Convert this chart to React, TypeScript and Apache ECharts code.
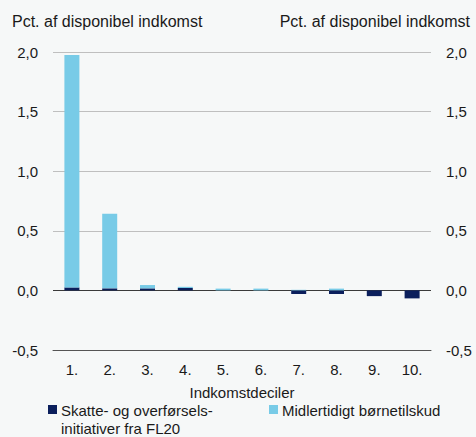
import React, { useEffect, useRef } from "react";
import * as echarts from "echarts";

const categories = ["1.", "2.", "3.", "4.", "5.", "6.", "7.", "8.", "9.", "10."];
const skatteValues = [0.025, 0.017, 0.017, 0.02, 0, 0, -0.03, -0.03, -0.048, -0.067];
const boerneValues = [1.95, 0.625, 0.028, 0.01, 0.015, 0.015, 0.005, 0.015, 0, 0];
const yTicks = [-0.5, 0, 0.5, 1.0, 1.5, 2.0];

const seriesNames = ["Skatte- og overførsels-initiativer fra FL20", "Midlertidigt børnetilskud"];
const legendLabels = ["Skatte- og overførsels-\ninitiativer fra FL20", "Midlertidigt børnetilskud"];
const unitLabel = "Pct. af disponibel indkomst";
const xAxisTitle = "Indkomstdeciler";

const DARK = "#0b1f5c";
const LIGHT = "#78cbe7";
const TEXT = "#1a1a1a";
const FONT = "Arial, 'Liberation Sans', sans-serif";
const FS = 15;

export default function App() {
  const ref = useRef<HTMLDivElement>(null);
  useEffect(() => {
    if (!ref.current) return;
    const chart = echarts.init(ref.current, null, { renderer: "svg" });
    const fmt = (v: number) => v.toFixed(1).replace(".", ",");
    const yAxisBase = (position: "left" | "right") => ({
      type: "value",
      position,
      min: yTicks[0],
      max: yTicks[yTicks.length - 1],
      interval: 0.5,
      axisLine: { show: false },
      axisTick: { show: false },
      axisLabel: {
        formatter: fmt,
        color: TEXT,
        fontSize: FS,
        fontFamily: FONT,
        margin: 15,
      },
      splitLine: {
        show: position === "left",
        lineStyle: { color: ["#7f7f7f", "#3a3a3a", "#bfbfbf", "#bfbfbf", "#bfbfbf", "#bfbfbf"], width: 1 },
      },
    });
    const titleStyle = { fontSize: 16, fontWeight: "normal", color: TEXT, fontFamily: FONT };
    const legendColors = [DARK, LIGHT];
    const legendX = [48, 269];
    const legendGraphics: any[] = [];
    legendLabels.forEach((label, i) => {
      legendGraphics.push({
        type: "rect",
        shape: { x: legendX[i], y: 405, width: 9, height: 9 },
        style: { fill: legendColors[i] },
      });
      legendGraphics.push({
        type: "text",
        x: legendX[i] + 13,
        y: 401,
        style: {
          text: label,
          fill: TEXT,
          font: `${FS}px ${FONT}`,
          lineHeight: 18,
          verticalAlign: "top",
          align: "left",
        },
      });
    });
    chart.setOption({
      animation: false,
      backgroundColor: "#f6f8f8",
      textStyle: { fontFamily: FONT },
      title: [
        { text: unitLabel, left: 12, top: 13, padding: 0, textStyle: titleStyle },
        { text: unitLabel, right: 6, top: 13, padding: 0, textStyle: titleStyle },
      ],
      grid: { left: 53, right: 45, top: 52, bottom: 87, containLabel: false },
      graphic: legendGraphics,
      xAxis: {
        type: "category",
        data: categories,
        name: xAxisTitle,
        nameLocation: "middle",
        nameGap: 35,
        nameTextStyle: { fontSize: FS, color: TEXT, fontFamily: FONT },
        axisLine: { onZero: false, lineStyle: { color: "#555555" } },
        axisTick: { inside: true, length: 5, lineStyle: { color: "#555555" } },
        axisLabel: { color: TEXT, fontSize: FS, fontFamily: FONT, margin: 12 },
      },
      yAxis: [yAxisBase("left"), yAxisBase("right")],
      series: [
        {
          name: seriesNames[0],
          type: "bar",
          stack: "total",
          data: skatteValues,
          barWidth: 15,
          itemStyle: { color: DARK },
        },
        {
          name: seriesNames[1],
          type: "bar",
          stack: "total",
          data: boerneValues,
          barWidth: 15,
          itemStyle: { color: LIGHT },
        },
      ],
    });
    return () => chart.dispose();
  }, []);
  return <div ref={ref} style={{ width: 476, height: 437, position: "absolute", left: 0, top: 0 }} />;
}
